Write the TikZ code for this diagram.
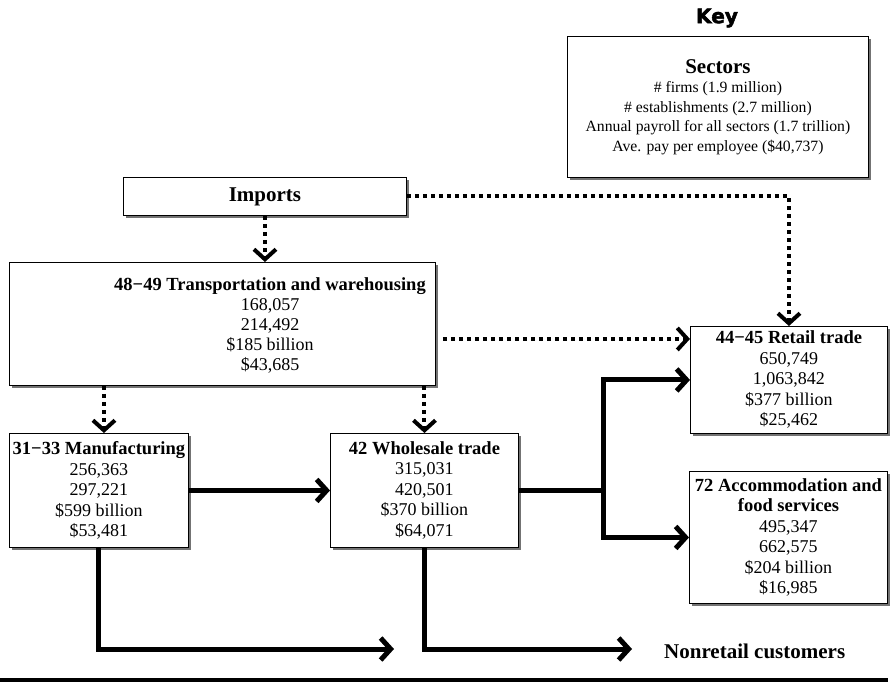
\documentclass[tikz,border=0pt]{standalone}
\usepackage{fontspec}
\setmainfont{Liberation Serif}
\newfontfamily\keyfont[BoldFeatures={FakeBold=2.5}]{DejaVu Sans}
\usetikzlibrary{arrows.meta,shadows,calc}
\newcommand{\sectitle}[1]{{\bfseries\fontsize{18.5}{20.5}\selectfont #1}}
\begin{document}
\begin{tikzpicture}[x=1pt,y=-1pt,
  sector/.style={draw=black, line width=0.9pt, fill=white, inner sep=0pt,
    align=center, font=\fontsize{18}{20.5}\selectfont,
    drop shadow={shadow xshift=3pt, shadow yshift=-3pt, fill=black!55, opacity=1}},
  boxonly/.style={sector, anchor=north west},
  flow/.style={line width=5pt, line join=miter,
    -{Straight Barb[length=10pt,width=22pt]}},
  feed/.style={line width=4pt, dash pattern=on 4pt off 4pt,
    -{Straight Barb[length=10pt,width=22pt]}},
]
\useasboundingbox (0,0) rectangle (891,682);

% key
\node[font=\keyfont\bfseries\fontsize{20}{22}\selectfont] (keytitle) at (717,18) {Key};
\node[boxonly, minimum width=301pt, minimum height=141pt,
      font=\fontsize{15.7}{19.5}\selectfont] (key) at (567,36)
  {{\fontsize{21}{26}\selectfont\bfseries Sectors}\\
   \# firms (1.9 million)\\
   \# establishments (2.7 million)\\
   Annual payroll for all sectors (1.7 trillion)\\
   Ave. pay per employee (\$40,737)};

% sector boxes
\node[boxonly, minimum width=283pt, minimum height=38pt,
      font=\fontsize{21}{24}\selectfont\bfseries] (imports) at (123,177) {Imports};

\node[boxonly, minimum width=426pt, minimum height=123pt] (trans) at (9,262) {};
\node[align=center, font=\fontsize{18}{20}\selectfont, inner sep=0pt] (transtxt) at (270,325)
  {\sectitle{48−49 Transportation and warehousing}\\
   168,057\\ 214,492\\ \$185 billion\\ \$43,685};

\node[boxonly, minimum width=179pt, minimum height=114pt] (manu) at (9,433)
  {\sectitle{31−33 Manufacturing}\\
   256,363\\ 297,221\\ \$599 billion\\ \$53,481};

\node[boxonly, minimum width=188pt, minimum height=114pt] (whole) at (330,433)
  {\sectitle{42 Wholesale trade}\\
   315,031\\ 420,501\\ \$370 billion\\ \$64,071};

\node[boxonly, minimum width=197pt, minimum height=107pt] (retail) at (690,326)
  {\sectitle{44−45 Retail trade}\\
   650,749\\ 1,063,842\\ \$377 billion\\ \$25,462};

\node[boxonly, minimum width=198pt, minimum height=132pt] (accomm) at (689,471)
  {\sectitle{72 Accommodation and}\\ \sectitle{food services}\\
   495,347\\ 662,575\\ \$204 billion\\ \$16,985};

\node[anchor=west, inner sep=0pt, font=\fontsize{21}{24}\selectfont\bfseries] (nonretail) at (664,651)
  {Nonretail customers};

% dotted supply links
\draw[feed] (imports.south) -- (imports.south |- trans.north);
\draw[feed] (imports.east) -| (retail.north);
\draw[feed, shorten <=7pt] ([yshift=-15pt]trans.east) -- ([yshift=-15pt]trans.east -| retail.west);
\draw[feed] ([xshift=5pt]manu.north |- trans.south) -- ([xshift=5pt]manu.north);
\draw[feed] (whole.north |- trans.south) -- (whole.north);

% solid flows
\coordinate (split) at ([xshift=85pt]whole.east);
\coordinate (manuout) at (394,649);
\coordinate (wholeout) at (632,649);
\draw[flow] (manu.east) -- (whole.west);
\draw[flow] (whole.east) -- (split) |- (retail.west);
\draw[flow] (split) |- (accomm.west);
\draw[flow] (manu.south) |- (manuout);
\draw[flow] (whole.south) |- (wholeout);

% rule under the chart
\draw[line width=3.5pt] (0,680) -- (888,680);
\end{tikzpicture}
\end{document}
